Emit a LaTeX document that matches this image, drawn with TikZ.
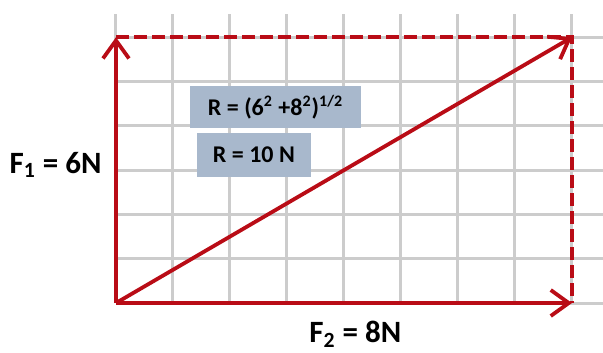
\documentclass[tikz,border=0pt]{standalone}
\usepackage{fontspec}
\setmainfont{Carlito}
\usepackage{tikz}
\usetikzlibrary{positioning,arrows.meta}
\definecolor{vecred}{RGB}{185,12,22}
\definecolor{gridgray}{RGB}{204,204,204}
\definecolor{boxblue}{RGB}{168,184,204}
\tikzset{
  gridline/.style={gridgray, line width=1.5pt},
  vecarrow/.style={vecred, line width=1.9pt, -{Straight Barb[length=9pt,width=13pt,line width=1.9pt]}},
  compline/.style={vecred, line width=1.8pt, dash pattern=on 6.5pt off 2.5pt},
  formbox/.style={fill=boxblue, inner sep=0pt, font=\fontsize{12}{14}\selectfont\bfseries},
  forcelabel/.style={font=\fontsize{15.5}{18}\selectfont\bfseries, anchor=base}
}

\begin{document}
\begin{tikzpicture}[x=28.5pt,y=22.15pt]
\useasboundingbox (-2.035,-1.106) rectangle (8.544,6.84);

\foreach \i in {0,...,8}
  \draw[gridline] (\i,0) -- (\i,6.52);
\foreach \j in {0,...,6}
  \draw[gridline] (0,\j) -- (8.544,\j);

\coordinate (O) at (0,0);
\coordinate (A) at (0,6);
\coordinate (B) at (8,0);
\coordinate (C) at (8,6);

\draw[compline] (A) -- (C) -- (B);

\draw[vecarrow] (O) -- (A);
\draw[vecarrow] (O) -- (B);
\draw[vecarrow] (O) -- (C);

\node[formbox, minimum width=85.8pt, minimum height=21.1pt] (formula) at (2.80,4.42)
  {R = (6\textsuperscript{2} +8\textsuperscript{2})\textsuperscript{1/2}};
\node[formbox, minimum width=57.2pt, minimum height=22pt] (result) at (2.42,3.35)
  {R = 10 N};

\node[forcelabel] (fone) at (-1.06,2.93) {F\textsubscript{1} = 6N};
\node[forcelabel] (ftwo) at (4.2,-0.90) {F\textsubscript{2} = 8N};
\end{tikzpicture}
\end{document}
